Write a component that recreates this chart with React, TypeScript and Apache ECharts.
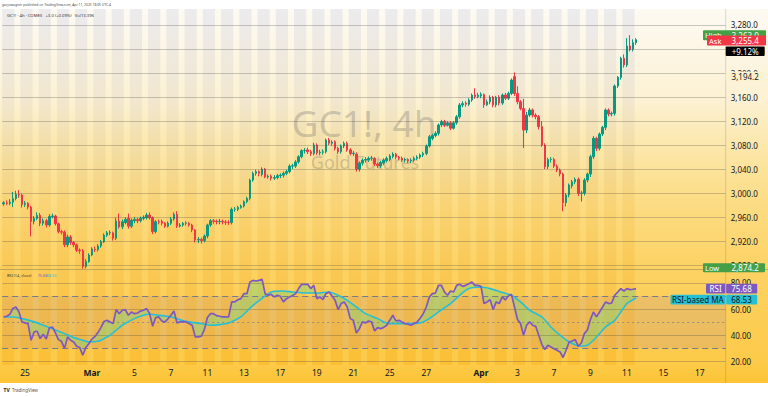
import React, { useEffect, useRef } from 'react';
import * as echarts from 'echarts';

// ---------- layout (pixels) ----------
const W = 768;
const H = 397;
const PLOT_LEFT = 2.2;
const PLOT_W = 723.5;
const PLOT_RIGHT = PLOT_LEFT + PLOT_W;
const MAIN_TOP = 9;
const MAIN_H = 260;
const RSI_TOP = 270;
const RSI_H = 95;
const AXIS_BAND_BOTTOM = 383;
const FONT = '"Noto Sans", Roboto, sans-serif';

// ---------- time ----------
const tradingDays = [
  '02-24', '02-25', '02-26', '02-27', '02-28',
  '03-03', '03-04', '03-05', '03-06', '03-07',
  '03-10', '03-11', '03-12', '03-13', '03-14',
  '03-17', '03-18', '03-19', '03-20', '03-21',
  '03-24', '03-25', '03-26', '03-27', '03-28',
  '03-31', '04-01', '04-02', '04-03', '04-04',
  '04-07', '04-08', '04-09', '04-10', '04-11',
];
const futureDays = ['04-14', '04-15', '04-16', '04-17', '04-18'];
const sessionHours = ['18:00', '22:00', '02:00', '06:00', '10:00', '14:00'];
const shadedHours = ['22:00', '02:00', '06:00', '10:00'];

const timeTicks: [string, string][] = [
  ['02-25 02:00', '25'], ['03-03 18:00', 'Mar'], ['03-05 02:00', '5'], ['03-07 02:00', '7'],
  ['03-11 02:00', '11'], ['03-13 02:00', '13'], ['03-17 02:00', '17'], ['03-19 02:00', '19'],
  ['03-21 02:00', '21'], ['03-25 02:00', '25'], ['03-27 02:00', '27'], ['04-01 02:00', 'Apr'],
  ['04-03 02:00', '3'], ['04-07 02:00', '7'], ['04-09 02:00', '9'], ['04-11 02:00', '11'],
  ['04-15 02:00', '15'], ['04-17 02:00', '17'],
];
const monthNames = ['Mar', 'Apr'];

// ---------- price data: [open, close, low, high] ----------
const candles: number[][] = [
  [2982, 2984, 2979, 2987], [2984, 2983, 2980, 2988], [2983, 2985, 2980, 2990], [2985, 2991, 2977, 3002], [2991, 2998, 2988, 3004],
  [2998, 2997, 2992, 3005], [2997, 2981, 2976, 2999], [2981, 2983, 2977, 2987], [2983, 2977, 2973, 2985], [2977, 2953, 2928, 2979], [2953, 2958, 2948, 2962],
  [2958, 2963, 2955, 2968], [2963, 2950, 2945, 2967], [2950, 2954, 2946, 2958], [2954, 2947, 2943, 2957], [2947, 2961, 2944, 2965], [2961, 2962, 2958, 2966],
  [2962, 2949, 2946, 2964], [2949, 2936, 2933, 2951], [2936, 2935, 2931, 2939], [2935, 2914, 2910, 2938], [2914, 2927, 2910, 2931], [2927, 2918, 2914, 2930],
  [2918, 2914, 2910, 2920], [2914, 2905, 2902, 2916], [2905, 2904, 2899, 2908], [2904, 2878, 2874.2, 2907], [2878, 2886, 2875, 2890], [2886, 2897, 2884, 2900],
  [2897, 2907, 2895, 2910], [2907, 2906, 2902, 2911], [2906, 2912, 2903, 2915], [2912, 2919, 2909, 2922], [2919, 2930, 2917, 2933], [2930, 2934, 2927, 2937],
  [2934, 2934.5, 2930, 2938], [2934, 2925, 2921, 2936], [2925, 2953.6, 2922, 2959], [2953.6, 2944, 2941, 2966], [2944, 2952.5, 2940, 2956], [2951, 2956.4, 2948, 2960],
  [2958, 2945, 2941, 2966], [2945, 2955, 2942, 2958], [2954, 2956.4, 2950, 2960], [2956, 2954, 2950, 2959], [2954, 2958, 2951, 2961], [2958, 2960, 2955, 2963],
  [2959, 2963.6, 2956, 2967], [2963.6, 2959, 2956, 2968], [2959, 2936, 2932, 2961], [2936, 2952.5, 2933, 2955], [2952.5, 2952, 2948, 2956], [2953, 2950, 2946, 2956],
  [2950, 2945, 2942, 2952], [2945, 2950, 2943, 2953], [2950, 2957, 2947, 2960], [2957, 2964.7, 2954, 2968], [2964.7, 2945.3, 2942, 2970], [2945.3, 2947, 2943, 2950],
  [2947, 2949.7, 2944, 2952], [2950, 2950.4, 2946, 2953], [2950, 2946.9, 2944, 2952], [2946.9, 2938.6, 2935, 2949], [2938.6, 2922, 2918, 2940], [2922, 2923, 2917, 2927],
  [2923, 2921, 2916, 2926], [2921, 2928.6, 2918, 2931], [2928.6, 2946.9, 2925, 2949], [2947, 2954, 2944, 2957], [2954, 2953, 2949, 2957], [2953, 2952.5, 2948, 2956],
  [2952.5, 2953, 2948, 2957], [2953, 2952, 2948, 2956], [2952, 2951.5, 2947, 2955], [2951.5, 2951, 2947, 2955], [2951, 2973, 2948, 2976], [2973, 2973.5, 2969, 2977],
  [2973, 2976.3, 2970, 2979], [2976.3, 2978.6, 2974, 2981], [2978.6, 2985.8, 2976, 2988], [2985.8, 2991.3, 2983, 2994], [2991.3, 3021.9, 2988, 3024], [3021.9, 3033, 3019, 3036],
  [3033, 3035.7, 3029, 3039], [3035.7, 3033, 3028, 3038], [3031, 3039.7, 3028, 3043], [3039.7, 3027, 3025, 3042], [3027, 3028, 3024, 3031], [3028, 3025, 3021, 3031],
  [3025, 3026, 3022, 3030], [3026, 3029, 3023, 3032], [3029, 3030, 3025, 3033], [3030, 3033, 3026, 3036], [3033, 3036, 3030, 3039], [3036, 3045, 3033, 3048],
  [3045, 3045.5, 3040, 3049], [3045, 3052, 3042, 3055], [3052, 3060.7, 3049, 3063], [3060.7, 3070.7, 3058, 3073], [3070.7, 3071, 3066, 3075], [3072, 3069, 3065, 3076],
  [3069, 3066, 3062, 3072], [3066, 3080, 3063, 3084], [3080, 3067, 3064, 3083], [3067, 3068, 3063, 3072], [3068, 3069, 3064, 3073], [3069, 3088.5, 3066, 3091],
  [3088.5, 3083, 3080, 3092], [3083, 3085, 3079, 3088], [3085.7, 3074.6, 3071, 3088], [3074.6, 3069, 3065, 3077], [3069, 3078.5, 3066, 3081], [3078.5, 3083, 3075, 3086],
  [3083, 3072, 3069, 3086], [3072, 3066, 3063, 3075], [3066, 3066.5, 3062, 3070], [3065, 3040, 3036, 3068], [3040, 3050, 3036, 3053], [3050, 3055, 3046, 3058],
  [3055, 3056, 3051, 3060], [3055, 3058, 3052, 3061], [3058, 3058.4, 3054, 3062], [3058, 3048.5, 3045, 3060], [3048.5, 3046, 3042, 3051], [3045, 3051, 3042, 3054],
  [3050, 3055, 3047, 3058], [3054, 3058, 3051, 3061], [3056, 3062, 3053, 3065], [3061, 3065, 3058, 3068], [3065, 3060, 3057, 3067], [3060, 3058, 3055, 3062],
  [3058, 3055, 3052, 3061], [3055, 3056, 3051, 3059], [3056, 3054, 3050, 3058], [3054, 3055, 3050, 3058], [3055, 3058, 3052, 3061], [3058, 3060, 3055, 3063],
  [3060, 3063.5, 3057, 3066], [3063.5, 3066, 3060, 3069], [3066, 3078.5, 3063, 3081], [3078.5, 3094, 3076, 3097], [3091, 3096, 3088, 3099], [3096, 3099.6, 3093, 3103],
  [3099.6, 3113.5, 3096, 3116], [3113.5, 3119, 3110, 3122], [3119, 3113, 3110, 3122], [3113, 3117, 3111, 3120], [3117, 3108, 3105, 3120], [3108, 3117, 3106, 3120],
  [3117, 3127, 3114, 3130], [3127, 3146.8, 3124, 3150], [3146.8, 3149, 3143, 3153], [3150, 3148, 3144, 3153], [3148, 3155, 3145, 3158], [3155, 3163.4, 3152, 3166],
  [3163.4, 3160.6, 3157, 3174.5], [3160.6, 3163, 3158, 3167], [3162, 3164.5, 3158, 3168], [3164, 3147, 3142, 3166], [3147, 3152, 3145, 3156], [3152, 3159.5, 3148, 3163],
  [3159.5, 3147, 3143, 3162], [3147, 3159.5, 3143, 3162], [3159.5, 3150, 3146, 3163], [3150, 3163.4, 3147, 3166], [3163.4, 3158, 3155, 3167], [3158, 3166, 3155, 3169],
  [3166, 3188.4, 3163, 3191], [3194, 3166, 3162, 3201], [3166, 3152.3, 3148, 3178], [3152.3, 3141, 3138, 3155], [3141, 3105, 3075, 3157], [3105, 3130, 3100, 3135],
  [3130, 3138.5, 3127, 3142], [3138.5, 3130, 3126, 3141], [3130, 3127.4, 3123, 3133], [3127.4, 3110.7, 3106, 3130], [3110.7, 3080, 3077, 3120], [3080, 3044, 3040, 3083],
  [3044, 3056, 3040, 3059], [3056, 3056.3, 3051, 3060], [3056, 3045, 3042, 3059], [3045, 3038.5, 3035, 3048], [3038.5, 3031.9, 3028, 3041], [3031.9, 2984.2, 2970, 3034],
  [2984.2, 2997, 2978, 3000], [2997, 3013.6, 2993, 3016], [3012, 3019, 3008, 3022], [3019, 3023, 3015, 3026], [3023, 2999.7, 2995, 3026], [2999.7, 3000.3, 2986, 3004],
  [3000, 3021.9, 2996, 3025], [3021.9, 3031.8, 3018, 3034], [3031.8, 3060.7, 3027, 3064], [3060.7, 3091.3, 3057, 3095], [3091.3, 3074.6, 3070, 3094], [3074.6, 3098.5, 3071, 3101],
  [3098.5, 3109.6, 3095, 3112], [3109.6, 3138.4, 3105, 3141], [3138.4, 3131.8, 3128, 3141], [3131.8, 3132.9, 3128, 3136], [3132.9, 3178.4, 3129, 3181], [3178.4, 3192.8, 3175, 3195],
  [3192.8, 3224.5, 3189, 3227], [3224.5, 3213.4, 3209, 3231], [3213.4, 3245, 3210, 3258], [3245, 3239.5, 3236, 3263], [3239.5, 3250.6, 3236, 3256], [3250.6, 3255.4, 3247, 3258],
];

// ---------- RSI (14, close) and its moving average ----------
const rsi: number[] = [
  54, 54.5, 56, 60.5, 61.6, 58, 50.2, 49.4, 48.9, 36.1,
  42.5, 43, 37.4, 40.7, 37, 45.5, 46.3, 41.7, 36.6, 35.3,
  29.7, 38.7, 36.1, 34.8, 31.5, 30.5, 24.6, 30.5, 33.5, 37,
  39, 42, 46, 50.5, 51.4, 50.2, 48.9, 59.6, 56.5, 59.1,
  59.6, 55.3, 57.8, 56.5, 57, 58.5, 59.1, 60.4, 56.5, 46.8,
  53.5, 54, 50.9, 50, 52.5, 55.3, 58.6, 49.4, 50.2, 50.4,
  50.2, 48.9, 47.6, 38.7, 38.7, 39.2, 44.3, 53.5, 56.5, 56.5,
  55, 54.5, 54, 54, 54, 65.5, 65.5, 67.2, 68, 71.8,
  71.8, 80.8, 82, 81.5, 82, 82.8, 71.8, 70.6, 71.3, 69.3,
  70.6, 69.8, 65.5, 68, 69.3, 70.5, 71.8, 75.7, 79, 79,
  79, 75.7, 78.2, 68, 69.3, 67.2, 71.8, 73.1, 70, 66.7,
  59.6, 64.2, 65.5, 61.6, 52.7, 51.4, 41.7, 45, 50.2, 49.4,
  50.9, 50.2, 43.3, 45.8, 45, 46, 47.6, 51.4, 55.3, 50.9,
  51.4, 50.2, 48.9, 48.4, 47.6, 48.9, 50.2, 53, 56.5, 61.6,
  69.3, 71.8, 72.3, 78.2, 78.2, 73.1, 70.6, 73.9, 73.1, 78.2,
  79, 77.4, 78.2, 79.5, 80.8, 78.2, 78.2, 77.4, 64.2, 65.5,
  67.2, 59.6, 65.5, 64.2, 69.3, 67, 70, 71.3, 62, 52,
  48.9, 40, 47.6, 50.2, 47.6, 46.8, 40, 33, 29, 32.3,
  31, 29.7, 28.5, 27.2, 22.9, 28.5, 34.8, 35.6, 36.6, 31.5,
  34, 41.2, 44, 52, 57.8, 54, 57.8, 61.6, 65.5, 64.2,
  64.7, 70.6, 73.1, 75.7, 73.9, 75.7, 74.9, 75.2, 75.68,
];
// [bar index, value]
const rsiMaPoints: [number, number][] = [
  [0, 54], [3, 54], [6, 52.7], [10, 50.2], [13, 47.6], [16, 45], [20, 41.2], [23, 38.2], [26, 36.1], [28, 34.8],
  [31, 35.3], [33, 37.4], [35, 40], [37, 43.8], [39, 47.6], [43, 52.7], [46, 55.3], [48, 56], [51, 55.3], [55, 54],
  [58, 51.9], [61, 50.2], [65, 48.9], [68, 47.6], [71, 48.1], [74, 49.4], [78, 54], [81, 60.8], [84, 66.5], [88, 73.1],
  [92, 73.9], [95, 73.1], [99, 72.3], [103, 72.3], [107, 73.1], [110, 70.6], [113, 66.7], [116, 61.6], [119, 56.5], [123, 52.7],
  [125, 50.2], [127, 48.9], [130, 48.9], [134, 48.9], [137, 49.4], [140, 52.7], [143, 57.8], [147, 64.2], [150, 70.6], [153, 75.7],
  [157, 76.9], [160, 75.7], [163, 73.5], [167, 70.6], [170, 65.5], [173, 59.1], [177, 54], [180, 46.3], [183, 40], [186, 34.8],
  [190, 31.5], [192, 32.3], [194, 36.1], [196, 41.2], [198, 46.3], [201, 51.4], [203, 57.8], [205, 64.2], [207, 67.2], [208, 68.53],
];

// ---------- scales & levels ----------
const priceMin = 2873.7;
const priceMax = 3306.6;
const priceLevels = [2880, 2920, 2960, 3000, 3040, 3080, 3120, 3160, 3200, 3240, 3280];
const coveredPriceLabels = [3240]; // fully hidden behind the last-price tags
const rsiMin = 17.16;
const rsiMax = 89.96;
const rsiGridLevels = [20, 40, 60, 80];
const rsiBandLevels = [30, 70];
const rsiMidLevel = 50;

const sessionHigh = 3263.0;
const sessionLow = 2874.2;
const askPrice = 3255.4;
const changeText = '+9.12%';
const markerPrice = 3194.2;
const rsiLast = 75.68;
const rsiMaLast = 68.53;

const UP = '#089981';
const DOWN = '#f23645';
const RSI_COLOR = '#7e57c2';
const MA_COLOR = '#26c0d6';
const GRID_LINE = 'rgba(70,70,70,0.28)';

const categories = [...tradingDays, ...futureDays]
  .flatMap((d) => sessionHours.map((h) => `${d} ${h}`))
  .slice(1, 239);
const stripeData = categories.map((c, i) =>
  i < candles.length && shadedHours.includes(c.slice(6)) ? 1 : '-'
);
const tickIndex = new Map<number, string>(
  timeTicks.map(([key, text]) => [categories.indexOf(key), text] as [number, string])
);

const fmtPrice = (v: number) =>
  v.toLocaleString('en-US', { minimumFractionDigits: 1, maximumFractionDigits: 1 });

function buildOption(): any {
  const xAxes = [0, 1, 2].map((i) => ({
    type: 'category',
    gridIndex: i,
    data: categories,
    boundaryGap: true,
    axisLine: { show: false },
    axisTick: { show: false },
    splitLine: { show: false },
    axisLabel:
      i === 1
        ? {
            show: true,
            interval: (idx: number) => tickIndex.has(idx),
            formatter: (_v: string, idx: number) => {
              const t = tickIndex.get(idx) || '';
              return monthNames.includes(t) ? `{b|${t}}` : t;
            },
            color: '#131722',
            fontSize: 8.5,
            fontFamily: FONT,
            margin: 3,
            rich: { b: { fontWeight: 'bold', fontSize: 8.5, color: '#131722', fontFamily: FONT } },
          }
        : { show: false },
  }));

  return {
    animation: false,
    backgroundColor: '#ffffff',
    textStyle: { fontFamily: FONT },
    grid: [
      { left: PLOT_LEFT, top: MAIN_TOP, width: PLOT_W, height: MAIN_H },
      { left: PLOT_LEFT, top: RSI_TOP, width: PLOT_W, height: RSI_H },
      { left: PLOT_LEFT, top: MAIN_TOP, width: PLOT_W, height: RSI_TOP + RSI_H - MAIN_TOP },
    ],
    xAxis: xAxes,
    yAxis: [
      { type: 'value', gridIndex: 0, min: priceMin, max: priceMax, show: false },
      { type: 'value', gridIndex: 1, min: rsiMin, max: rsiMax, show: false },
      { type: 'value', gridIndex: 2, min: 0, max: 1, show: false },
    ],
    series: [
      {
        name: 'sessions',
        type: 'bar',
        xAxisIndex: 2,
        yAxisIndex: 2,
        data: stripeData,
        barWidth: '100%',
        barCategoryGap: '0%',
        itemStyle: {
          color: {
            type: 'linear', x: 0, y: 0, x2: 0, y2: 1,
            colorStops: [
              { offset: 0, color: 'rgba(80,95,190,0.10)' },
              { offset: 0.3, color: 'rgba(130,125,160,0.08)' },
              { offset: 0.55, color: 'rgba(235,165,40,0.16)' },
              { offset: 1, color: 'rgba(245,160,0,0.26)' },
            ],
          },
        },
        silent: true,
        z: 1,
      },
      {
        name: 'priceGrid',
        type: 'line',
        xAxisIndex: 0,
        yAxisIndex: 0,
        data: [],
        silent: true,
        z: 2,
        markLine: {
          silent: true,
          symbol: 'none',
          animation: false,
          lineStyle: { color: GRID_LINE, width: 1, type: 'solid' },
          data: priceLevels.map((v) => ({
            yAxis: v,
            label: {
              show: !coveredPriceLabels.includes(v),
              position: 'end',
              distance: 5,
              formatter: (p: any) => fmtPrice(p.value),
              color: '#131722',
              fontSize: 8,
              fontFamily: FONT,
            },
          })),
        },
      },
      {
        name: 'rsiGrid',
        type: 'line',
        xAxisIndex: 1,
        yAxisIndex: 1,
        data: [],
        silent: true,
        z: 2,
        markArea: {
          silent: true,
          itemStyle: { color: 'rgba(126,87,194,0.13)' },
          data: [[{ yAxis: rsiBandLevels[0] }, { yAxis: rsiBandLevels[1] }]],
        },
        markLine: {
          silent: true,
          symbol: 'none',
          animation: false,
          data: [
            ...rsiGridLevels.map((v) => ({
              yAxis: v,
              lineStyle: { color: GRID_LINE, width: 1, type: 'solid' },
              label: {
                show: true,
                position: 'end',
                distance: 5,
                formatter: (p: any) => Number(p.value).toFixed(2),
                color: '#131722',
                fontSize: 8,
                fontFamily: FONT,
              },
            })),
            ...rsiBandLevels.map((v) => ({
              yAxis: v,
              lineStyle: { color: '#787b86', width: 1.2, type: [6, 4] },
              label: { show: false },
            })),
            {
              yAxis: rsiMidLevel,
              lineStyle: { color: 'rgba(120,123,134,0.7)', width: 1, type: [2, 3] },
              label: { show: false },
            },
          ],
        },
      },
      {
        name: 'rsiFill',
        type: 'custom',
        xAxisIndex: 1,
        yAxisIndex: 1,
        data: [[0, 50]],
        silent: true,
        clip: true,
        z: 3,
        renderItem: (_params: any, api: any) => {
          const pts: number[][] = [];
          rsi.forEach((v, i) => pts.push(api.coord([i, v])));
          for (let j = rsiMaPoints.length - 1; j >= 0; j--) pts.push(api.coord(rsiMaPoints[j]));
          return {
            type: 'polygon',
            shape: { points: pts },
            style: { fill: 'rgba(140,212,120,0.5)' },
          };
        },
      },
      {
        name: 'GC1!',
        type: 'candlestick',
        xAxisIndex: 0,
        yAxisIndex: 0,
        data: candles,
        barWidth: 2,
        z: 4,
        itemStyle: {
          color: UP,
          color0: DOWN,
          borderColor: UP,
          borderColor0: DOWN,
          borderWidth: 1,
        },
      },
      {
        name: 'RSI-based MA',
        type: 'line',
        xAxisIndex: 1,
        yAxisIndex: 1,
        data: rsiMaPoints,
        smooth: 0.25,
        showSymbol: false,
        lineStyle: { color: MA_COLOR, width: 1.6 },
        z: 5,
      },
      {
        name: 'RSI',
        type: 'line',
        xAxisIndex: 1,
        yAxisIndex: 1,
        data: rsi,
        showSymbol: false,
        lineStyle: { color: RSI_COLOR, width: 1.7 },
        z: 6,
      },
    ],
  };
}

function textEl(text: string, x: number, y: number, size: number, fill: string, align = 'left', weight = 'normal', z = 10): any {
  return {
    type: 'text',
    x,
    y,
    z,
    silent: true,
    style: {
      text,
      fill,
      font: `${weight} ${size}px ${FONT}`,
      textAlign: align,
      textVerticalAlign: 'middle',
    },
  };
}

function rectEl(x: number, y: number, w: number, h: number, fill: string, z = 100): any {
  return { type: 'rect', z, silent: true, shape: { x, y, width: w, height: h, r: 1 }, style: { fill } };
}

export default function App() {
  const ref = useRef<HTMLDivElement>(null);

  useEffect(() => {
    if (!ref.current) return;
    const chart = echarts.init(ref.current, null, { renderer: 'svg', width: W, height: H });
    chart.setOption(buildOption());

    const yP = (v: number) => chart.convertToPixel({ yAxisIndex: 0 }, v) as number;
    const yR = (v: number) => chart.convertToPixel({ yAxisIndex: 1 }, v) as number;

    const valueX = PLOT_RIGHT + 19.5;
    const highY = yP(sessionHigh);
    const askY = yP(askPrice) + 0.8;
    const lowY = yP(sessionLow) - 1;
    const markerY = yP(markerPrice);
    const rsiY = yR(rsiLast);
    const maY = Math.max(yR(rsiMaLast), rsiY + 11);

    const graphics: any[] = [
      // background gradient
      {
        type: 'rect',
        z: -100,
        silent: true,
        shape: { x: 0, y: MAIN_TOP, width: W, height: AXIS_BAND_BOTTOM - MAIN_TOP },
        style: {
          fill: {
            type: 'linear', x: 0, y: 0, x2: 0, y2: 1,
            colorStops: [
              { offset: 0, color: '#fdfaf3' },
              { offset: 0.243, color: '#fcf1d3' },
              { offset: 0.35, color: '#fce9b0' },
              { offset: 0.51, color: '#fcdd86' },
              { offset: 0.698, color: '#fcd263' },
              { offset: 0.952, color: '#fdca48' },
              { offset: 1, color: '#fcc434' },
            ],
          },
        },
      },
      // pane separators
      { type: 'line', z: 3, silent: true, shape: { x1: 0, y1: MAIN_TOP + MAIN_H + 0.5, x2: W, y2: MAIN_TOP + MAIN_H + 0.5 }, style: { stroke: 'rgba(90,90,90,0.35)', lineWidth: 1 } },
      { type: 'line', z: 3, silent: true, shape: { x1: PLOT_RIGHT, y1: MAIN_TOP, x2: PLOT_RIGHT, y2: AXIS_BAND_BOTTOM }, style: { stroke: 'rgba(90,90,90,0.22)', lineWidth: 1 } },
      // watermark
      textEl('GC1!, 4h', 364, 122, 37, 'rgba(100,100,100,0.3)', 'center', 'normal', 1),
      textEl('Gold Futures', 365, 162, 18, 'rgba(100,100,100,0.3)', 'center', 'normal', 1),
      // header
      textEl('garyswagner published on TradingView.com, Apr 11, 2025 18:05 UTC-4', 2, 4.5, 3.3, '#4a4a4a'),
      textEl('GC1! · 4h · COMEX   +3.0 (+0.09%)   Vol13.39K', 7, 15, 4.2, '#333333'),
      // RSI legend
      textEl('RSI (14, close)', 7, 275, 3.8, '#333333'),
      textEl(rsiLast.toFixed(2), 37.7, 275, 3.8, RSI_COLOR),
      textEl(rsiMaLast.toFixed(2), 46.7, 275, 3.8, MA_COLOR),
      // footer logo
      textEl('TV', 3.5, 389.5, 5, '#131722', 'left', 'bold'),
      textEl('TradingView', 12, 389.5, 4.5, '#555555'),
      // price scale markers
      rectEl(PLOT_RIGHT, markerY - 4.75, 40, 9.5, '#fbf3cf'),
      textEl(fmtPrice(markerPrice), valueX, markerY, 8, '#131722', 'center', 'normal', 101),
      rectEl(703, highY - 5, 63, 10, '#43a047'),
      textEl('High', 705, highY, 7.5, '#ffffff', 'left', 'normal', 101),
      textEl(fmtPrice(sessionHigh), valueX, highY, 8, '#ffffff', 'center', 'normal', 101),
      { ...rectEl(707, askY - 5, 59, 10, DOWN), z: 102 },
      textEl('Ask', 709, askY, 7.5, '#ffffff', 'left', 'normal', 103),
      textEl(fmtPrice(askPrice), valueX, askY, 8, '#ffffff', 'center', 'normal', 103),
      { ...rectEl(PLOT_RIGHT, askY + 6, 39, 9.5, '#000000'), z: 102 },
      textEl(changeText, valueX, askY + 10.75, 8, '#ffffff', 'center', 'normal', 103),
      rectEl(703, lowY - 4.5, 62, 9, '#43a047'),
      textEl('Low', 705, lowY, 7.5, '#ffffff', 'left', 'normal', 101),
      textEl(fmtPrice(sessionLow), valueX, lowY, 8, '#ffffff', 'center', 'normal', 101),
      // RSI scale markers
      rectEl(706, rsiY - 4.8, 19.2, 9.6, RSI_COLOR),
      rectEl(PLOT_RIGHT + 0.5, rsiY - 4.8, 31, 9.6, RSI_COLOR),
      textEl('RSI', 715.6, rsiY, 8, '#ffffff', 'center', 'normal', 101),
      textEl(rsiLast.toFixed(2), 741.5, rsiY, 8, '#ffffff', 'center', 'normal', 101),
      rectEl(670.5, maY - 4.8, 54.7, 9.6, MA_COLOR),
      rectEl(PLOT_RIGHT + 0.5, maY - 4.8, 31, 9.6, MA_COLOR),
      textEl('RSI-based MA', 697.8, maY, 8, '#131722', 'center', 'normal', 101),
      textEl(rsiMaLast.toFixed(2), 741.5, maY, 8, '#131722', 'center', 'normal', 101),
    ];
    chart.setOption({ graphic: graphics });

    return () => chart.dispose();
  }, []);

  return (
    <div
      ref={ref}
      style={{ position: 'fixed', left: 0, top: 0, width: W, height: H, background: '#ffffff' }}
    />
  );
}
